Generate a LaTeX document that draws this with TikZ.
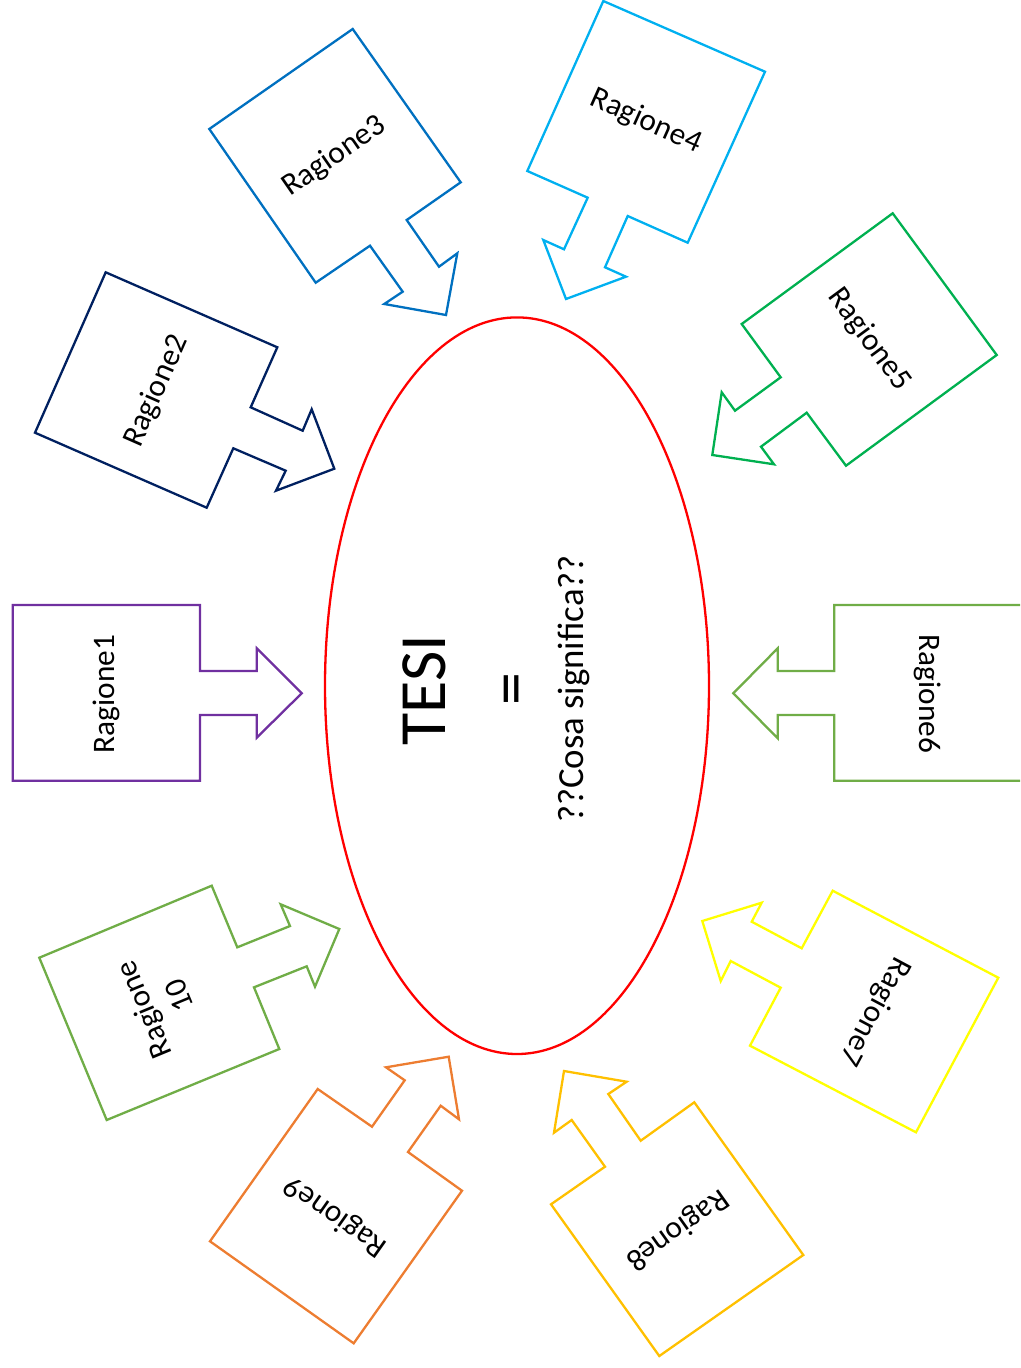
\documentclass[tikz,border=0pt]{standalone}
\usepackage{fontspec}
\setmainfont{Carlito}
\usetikzlibrary{shapes.geometric}
\definecolor{cPurple}{HTML}{7030A0}
\definecolor{cNavy}{HTML}{002060}
\definecolor{cBlue}{HTML}{0070C0}
\definecolor{cSky}{HTML}{00B0F0}
\definecolor{cGreen}{HTML}{00B050}
\definecolor{cLime}{HTML}{70AD47}
\definecolor{cYellow}{HTML}{FFFF00}
\definecolor{cGold}{HTML}{FFC000}
\definecolor{cOrange}{HTML}{ED7D31}
\definecolor{cRed}{HTML}{FF0000}
\begin{document}
\begin{tikzpicture}[x=1pt,y=-1pt,
  callout/.style={line width=2.3pt, line join=miter},
  lbl/.style={font=\fontsize{31.3}{38}\selectfont, inner sep=0pt, align=center, text=black}]
\useasboundingbox (0,0) rectangle (1020,1368);
\clip (0,0) rectangle (1020,1368);

% central ellipse
\node[draw=cRed, line width=2.3pt, ellipse, inner sep=0pt, minimum width=384pt, minimum height=736.6pt] (tesi) at (517,685.7) {};
\node[font=\fontsize{66}{70}\selectfont, inner sep=0pt, rotate=90, anchor=base] (tt) at (445,690) {TESI};
\node[font=\fontsize{66}{70}\selectfont, inner sep=0pt, rotate=90, anchor=base] (eq) at (532,689) {=};
\node[font=\fontsize{36.8}{40}\selectfont, inner sep=0pt, rotate=90, anchor=base] (cosa) at (583,689) {??Cosa significa??};

% Ragione1
\draw[callout, cPurple] (12.7,605) -- (200,605) -- (200,671) -- (256.7,671) -- (256.7,648.3) -- (301.7,693.3) -- (256.7,737.7) -- (256.7,715) -- (200,715) -- (200,780.7) -- (12.7,780.7) -- cycle;
\node[lbl, rotate=90] (r1) at (106.5,694) {Ragione1};

% Ragione2
\draw[callout, cNavy] (105.7,272.3) -- (277.3,347.3) -- (250.7,407.3) -- (302.7,430.7) -- (311.7,409.3) -- (334.3,468.7) -- (276,490.7) -- (285.7,470.7) -- (233.3,448.3) -- (206.7,507.7) -- (35,432.7) -- cycle;
\node[lbl, rotate=66.2] (r2) at (156.5,391) {Ragione2};

% Ragione3
\draw[callout, cBlue] (352.7,29) -- (460.7,182.3) -- (406.7,220) -- (439,266.7) -- (457.3,253.3) -- (446,315) -- (384.3,304) -- (402.7,291.7) -- (370,245.7) -- (315.7,282.7) -- (209.3,129) -- cycle;
\node[lbl, rotate=34.7] (r3) at (334.6,156.5) {Ragione3};

% Ragione4
\draw[callout, cSky] (603.3,1) -- (765,71.7) -- (687.7,242.7) -- (627.7,216) -- (605,267.3) -- (626,276.7) -- (566,299) -- (543.3,240) -- (564,249.3) -- (587.7,197.7) -- (527.3,171) -- cycle;
\node[lbl, rotate=-24.1] (r4) at (645.8,121.6) {Ragione4};

% Ragione5
\draw[callout, cGreen] (892.7,213.3) -- (996.7,355) -- (846,465.7) -- (806.7,412.7) -- (761,446.7) -- (774,464.3) -- (712.3,455) -- (721.7,392.3) -- (735,410.7) -- (780.7,377.3) -- (741.7,324) -- cycle;
\node[lbl, rotate=-53.6] (r5) at (869.3,339.5) {Ragione5};

% Ragione6
\draw[callout, cLime] (1023,605) -- (834.3,605) -- (834.3,671) -- (777.7,671) -- (777.7,648.3) -- (733.3,693.3) -- (777.7,738.3) -- (777.7,715) -- (834.3,715) -- (834.3,780.7) -- (1023,780.7);
\node[lbl, rotate=-90] (r6) at (927.5,694) {Ragione6};

% Ragione7
\draw[callout, cYellow] (832.7,890.7) -- (998.3,977.7) -- (916,1132.3) -- (750,1045.7) -- (780.7,987.7) -- (730.7,961) -- (720.7,981) -- (702.3,921) -- (761.7,902.7) -- (751.7,921.7) -- (801.7,948.3) -- cycle;
\node[lbl, rotate=-118.1] (r7) at (874.3,1011.6) {Ragione7};

% Ragione8
\draw[callout, cGold] (694.3,1102.3) -- (803.3,1255) -- (659.3,1356) -- (551,1204.3) -- (605,1166.7) -- (571.7,1120) -- (554,1132.7) -- (564,1071) -- (626.7,1081.7) -- (608.3,1094) -- (640.7,1140.7) -- cycle;
\node[lbl, rotate=-144.6] (r8) at (677,1229.4) {Ragione8};

% Ragione9
\draw[callout, cOrange] (317.7,1089) -- (372,1126.7) -- (404.7,1080.3) -- (386,1067.3) -- (448.7,1056.7) -- (459,1119.3) -- (440.7,1105.7) -- (408,1152) -- (462,1190.7) -- (353.7,1343.3) -- (210,1241.3) -- cycle;
\node[lbl, rotate=144.8] (r9) at (335.9,1216.1) {Ragione9};

% Ragione10
\draw[callout, cLime] (211.7,885.7) -- (237.3,947.3) -- (290,926) -- (280.7,904.3) -- (339.3,929) -- (315,986.7) -- (306.7,966.3) -- (254,987.3) -- (279.3,1049) -- (106.7,1120) -- (39.3,957.7) -- cycle;
\node[lbl, rotate=112.5] (r10) at (161,1003) {Ragione\\10};
\end{tikzpicture}
\end{document}
